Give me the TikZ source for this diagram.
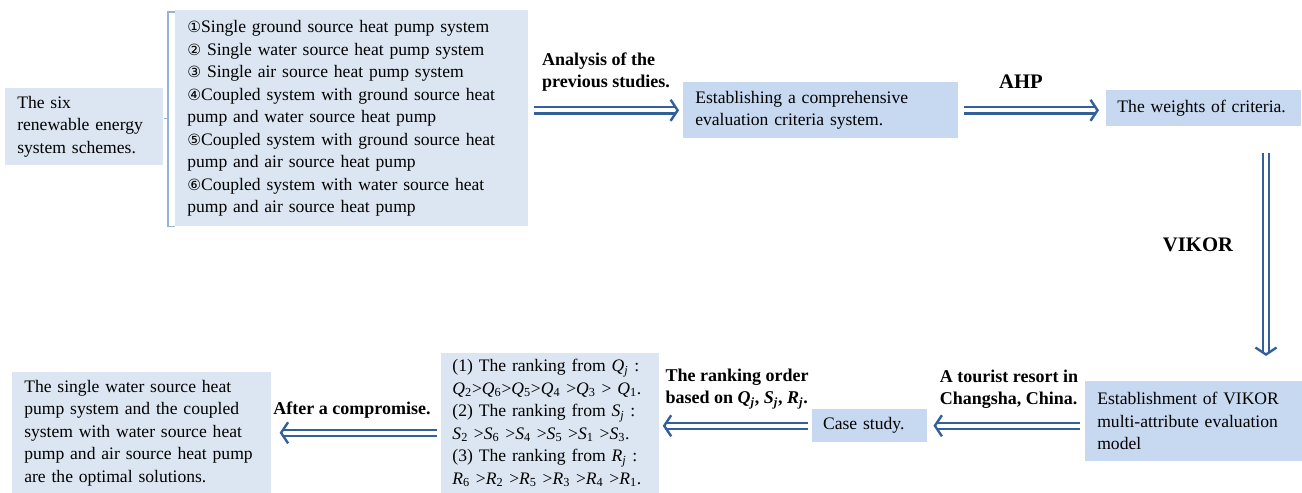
\documentclass[tikz,border=0pt]{standalone}
\usepackage{fontspec}
\setmainfont{Liberation Serif}
\newfontfamily\circfont{DejaVu Sans}[Scale=0.88]
\usetikzlibrary{arrows.meta, calc}
\definecolor{boxpale}{HTML}{DCE6F2}
\definecolor{boxblue}{HTML}{C6D9F1}
\definecolor{arrowblue}{HTML}{34609A}
\definecolor{bracketblue}{HTML}{95B3D7}
\newcommand{\cnum}[1]{{\circfont #1}}
\newcommand{\idx}[2]{\textit{#1}\textsubscript{#2}}
\newcommand{\nohyph}{\hyphenpenalty=10000\relax}
\tikzset{
  pbox/.style={rectangle, fill=#1, anchor=north west, inner ysep=2pt,
               align=left, font=\fontsize{12.5}{16}\selectfont\nohyph},
  pbox/.default=boxpale,
  lbl/.style={align=left, font=\fontsize{12.8}{16}\selectfont\bfseries},
  biglbl/.style={font=\fontsize{14.7}{17}\selectfont\bfseries},
  dblarr/.style={draw=arrowblue, double=white, line width=1.5pt, double distance=3pt,
                 -{Straight Barb[length=5pt, width=15pt, line width=1.7pt]}},
  brk/.style={draw=bracketblue, line width=1pt},
}

\begin{document}
\begin{tikzpicture}[x=0.025cm, y=-0.025cm]
  \useasboundingbox (0,0) rectangle (1302,493);

  \node[pbox, inner xsep=0.3cm, text width=3.35cm, minimum height=1.925cm] (six) at (5,88)
    {The six\\renewable energy\\system schemes.};
  \node[pbox, inner xsep=0.3cm, text width=8.22cm, minimum height=5.4cm] (list) at (175,10)
    {\cnum{①}Single ground source heat pump system\\
     \cnum{②} Single water source heat pump system\\
     \cnum{③} Single air source heat pump system\\
     \cnum{④}Coupled system with ground source heat\\
     pump and water source heat pump\\
     \cnum{⑤}Coupled system with ground source heat\\
     pump and air source heat pump\\
     \cnum{⑥}Coupled system with water source heat\\
     pump and air source heat pump};
  \node[pbox=boxblue, inner xsep=0.3cm, text width=6.275cm, minimum height=1.4cm] (estab) at (683,82)
    {Establishing a comprehensive\\evaluation criteria system.};
  \node[pbox=boxblue, inner xsep=0.28cm, text width=4.3cm, minimum height=0.9cm] (weights) at (1106,90)
    {The weights of criteria.};
  \node[pbox=boxblue, inner xsep=0.3cm, text width=4.82cm, minimum height=2cm] (vmodel) at (1085,381)
    {Establishment of VIKOR\\multi-attribute evaluation\\model};
  \node[pbox=boxblue, inner xsep=0.27cm, text width=2.33cm, minimum height=0.825cm] (case) at (812,409)
    {Case study.};
  \node[pbox, inner xsep=0.28cm, text width=4.87cm, minimum height=3.5cm] (rank) at (441,353)
    {(1) The ranking from \idx{Q}{\textit{j}} :\\
     \idx{Q}{2}>\idx{Q}{6}>\idx{Q}{5}>\idx{Q}{4} >\idx{Q}{3} > \idx{Q}{1}.\\
     (2) The ranking from \idx{S}{\textit{j}} :\\
     \idx{S}{2} >\idx{S}{6} >\idx{S}{4} >\idx{S}{5} >\idx{S}{1} >\idx{S}{3}.\\
     (3) The ranking from \idx{R}{\textit{j}} :\\
     \idx{R}{6} >\idx{R}{2} >\idx{R}{5} >\idx{R}{3} >\idx{R}{4} >\idx{R}{1}.};
  \node[pbox, inner xsep=0.3cm, text width=5.875cm, minimum height=3.025cm] (final) at (12,372)
    {The single water source heat\\pump system and the coupled\\system with water source heat\\
     pump and air source heat pump\\are the optimal solutions.};

  \node[lbl] (lanal) at (606,72) {Analysis of the\\previous studies.};
  \node[biglbl] (lahp) at (1021,82) {AHP};
  \node[biglbl] (lvikor) at (1198,245) {VIKOR};
  \node[lbl] (ltour) at (1009,389) {A tourist resort in\\Changsha, China.};
  \node[lbl] (lrank) at (737,389) {The ranking order\\based on \idx{Q}{\textit{j}}, \idx{S}{\textit{j}}, \idx{R}{\textit{j}}.};
  \node[lbl] (lcomp) at (352,410) {After a compromise.};

  \draw[brk] ($(list.north west)+(0,2)$) -- ++(-7,0) coordinate (btop) |- (list.south west);
  \draw[brk] (six.east |- list.west) -- (btop |- list.west);

  \coordinate (vx) at (1266,0);
  \draw[dblarr, shorten <=3.6pt, shorten >=2.8pt] (list.east |- estab.west) -- (estab.west);
  \draw[dblarr, shorten <=3.6pt, shorten >=5pt] (estab.east) -- (estab.east -| weights.west);
  \draw[dblarr, shorten <=18.5pt, shorten >=17.8pt] (weights.south -| vx) -- (vmodel.north -| vx);
  \draw[dblarr, shorten <=3.6pt, shorten >=4.3pt] (vmodel.west |- case.east) -- (case.east);
  \draw[dblarr, shorten <=2.8pt, shorten >=2.8pt] (case.west) -- (case.west -| rank.east);
  \draw[dblarr, shorten <=2.8pt, shorten >=5.7pt] (rank.west |- final.east) -- (final.east);
\end{tikzpicture}
\end{document}
